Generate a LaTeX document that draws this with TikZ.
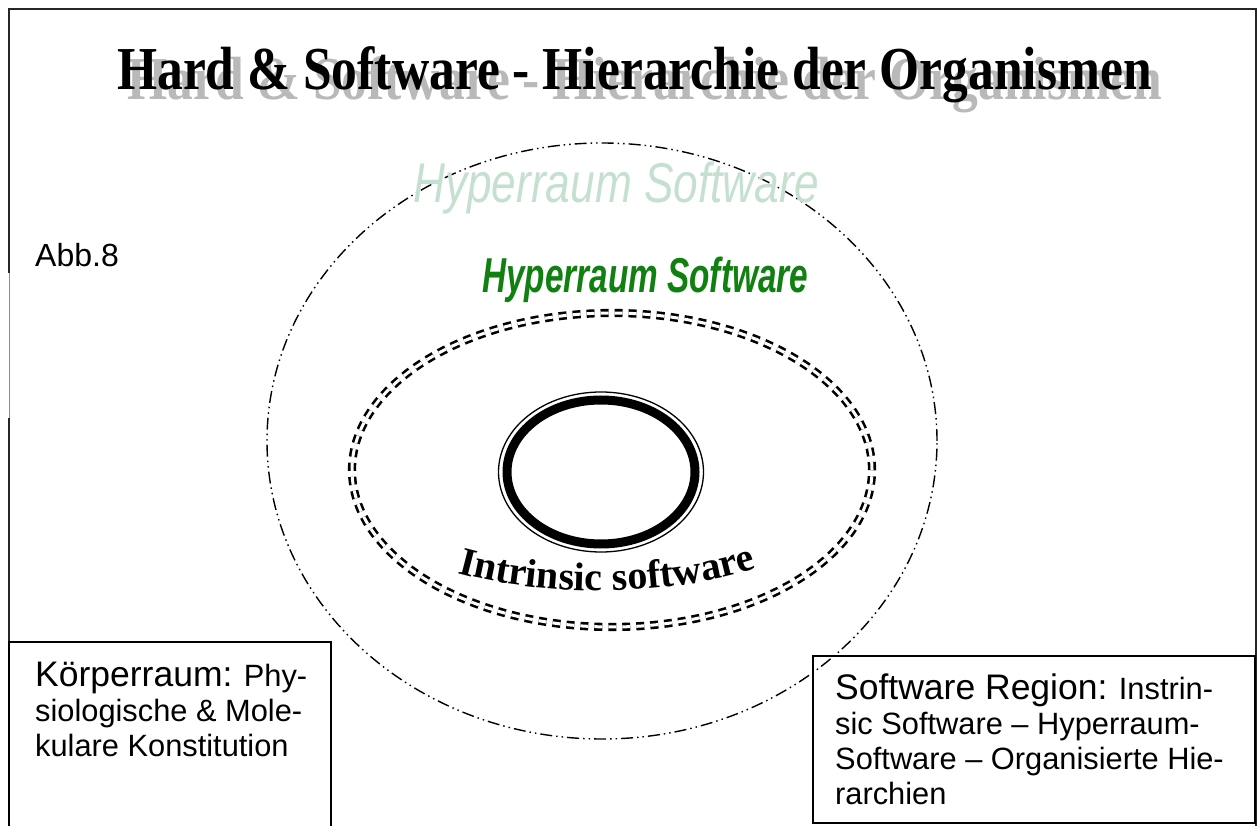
\documentclass[tikz,border=0pt]{standalone}
\usepackage{fontspec}
\setmainfont{Liberation Serif}
\setsansfont{Liberation Sans}
\usetikzlibrary{decorations.text}
\definecolor{shadowgray}{RGB}{185,185,185}
\definecolor{palegreen}{RGB}{198,224,208}
\definecolor{darkgreen}{RGB}{16,128,16}
\begin{document}
\begin{tikzpicture}[x=1pt,y=1pt,
  frame/.style={line width=1.6pt, black!85},
  framegap/.style={line width=0.8pt, black!45},
  boxline/.style={line width=1.5pt, black},
  titlefont/.style={font=\bfseries\fontsize{61}{61}\selectfont, inner sep=0pt},
  outerring/.style={line width=1.4pt, dash pattern=on 12pt off 4pt on 1.5pt off 4pt on 1.5pt off 4pt},
  midring/.style={double, double distance=3pt, line width=2.6pt, dash pattern=on 8pt off 6pt},
  boxtext/.style={font=\sffamily\fontsize{30.8}{35}\selectfont, align=left, inner sep=0pt, anchor=north west}
]
\useasboundingbox (0,0) rectangle (1258,825);
% frame
\draw[frame] (9,-2) -- (9,407);
\draw[framegap] (9,407) -- (9,552);
\draw[frame] (9,552) -- (9,816) -- (1256,816) -- (1256,-2);
% title with shadow
\node[titlefont, text=shadowgray, anchor=base west] (tshadow) at (127,725)
  {\scalebox{0.845}[1]{Hard \& Software - Hierarchie der Organismen}};
\node[titlefont, text=black, anchor=base west] (title) at (117,735)
  {\scalebox{0.845}[1]{Hard \& Software - Hierarchie der Organismen}};
% outer ring
\draw[outerring] (602,384) ellipse [x radius=335, y radius=298];
% pale label
\node[anchor=base west, inner sep=0pt, text=palegreen, font=\sffamily\itshape\fontsize{56}{56}\selectfont] (hyperpale) at (413,622)
  {\scalebox{0.79}[1]{Hyperraum Software}};
% green label
\node[anchor=base west, inner sep=0pt, text=darkgreen, font=\sffamily\bfseries\itshape\fontsize{49}{49}\selectfont] (hypergreen) at (482,532)
  {\scalebox{0.68}[1]{Hyperraum Software}};
% Abb.8
\node[anchor=base west, inner sep=0pt, font=\sffamily\fontsize{32}{38}\selectfont] (abb) at (35,558) {Abb.8};
% middle dashed double ring
\draw[midring] (612,355) ellipse [x radius=260, y radius=157];
% inner ring
\draw[line width=9pt] (601,353) ellipse [x radius=94, y radius=72];
\draw[line width=1.3pt] (601,353) ellipse [x radius=102.5, y radius=80];
% intrinsic software curved text
\path[decorate, decoration={text along path, text align=center,
   text format delimiters={|}{|},
   text={|\bfseries\fontsize{40}{40}\selectfont|Intrinsic software}}]
   (454,253) .. controls (540,228) and (670,227) .. (760,258);
% boxes
\draw[boxline] (9,-5) rectangle (331,183);
\draw[boxline] (813,2) rectangle (1255,169);
\node[boxtext] (koerper) at (35,163)
  {{\fontsize{35.5}{35}\selectfont Körperraum:} Phy-\\siologische \& Mole-\\kulare Konstitution};
\node[boxtext] (softreg) at (835,151)
  {{\fontsize{35.5}{35}\selectfont Software Region:} Instrin-\\sic Software – Hyperraum-\\Software – Organisierte Hie-\\rarchien};
\end{tikzpicture}
\end{document}
